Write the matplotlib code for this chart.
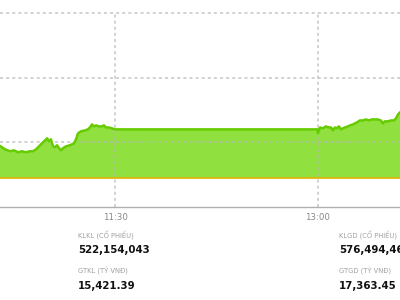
import matplotlib
matplotlib.use("Agg")
import matplotlib.pyplot as plt

# thời gian (phút kể từ 9:00) và giá trị chỉ số
morning_time = [99.0, 101.2, 103.4, 105.2, 107.0, 108.8, 110.5, 112.3, 113.6, 115.0,
                116.3, 117.6, 119.0, 119.9, 120.7, 121.6, 122.5, 123.4, 124.3, 125.2,
                126.1, 126.9, 128.3, 130.0, 131.8, 132.7, 133.6, 134.9, 136.7, 138.0,
                138.9, 139.8, 140.7, 141.6, 142.9, 144.2, 145.1, 146.0, 147.3, 148.7, 150.0]
morning_value = [1184.72, 1184.46, 1184.31, 1184.38, 1184.23, 1184.31, 1184.23, 1184.31, 1184.31, 1184.46,
                 1184.69, 1184.92, 1185.15, 1185.31, 1185.08, 1185.23, 1184.69, 1184.62, 1184.77, 1184.54,
                 1184.38, 1184.54, 1184.69, 1184.77, 1184.92, 1185.23, 1185.69, 1185.85, 1185.92, 1186.00,
                 1186.15, 1186.38, 1186.23, 1186.31, 1186.23, 1186.23, 1186.31, 1186.15, 1186.15, 1186.08, 1186.00]
afternoon_time = [239.8, 240.0, 240.9, 242.2, 243.5, 244.9, 245.8, 246.7, 247.5, 248.4, 249.3,
                  250.2, 251.1, 252.0, 253.3, 254.2, 255.5, 256.4, 257.3, 258.6, 260.0,
                  261.3, 262.6, 263.9, 265.3, 266.6, 267.9, 268.8, 269.7, 271.0, 272.4,
                  273.7, 274.6, 275.5, 276.4]
afternoon_value = [1186.00, 1185.69, 1186.15, 1186.08, 1186.23, 1186.15, 1186.15, 1185.92, 1186.15, 1186.08, 1186.23,
                   1186.00, 1186.08, 1186.15, 1186.23, 1186.31, 1186.38, 1186.46, 1186.54, 1186.69, 1186.69,
                   1186.77, 1186.69, 1186.77, 1186.77, 1186.77, 1186.69, 1186.46, 1186.62, 1186.62, 1186.69,
                   1186.69, 1186.85, 1187.15, 1187.31]
ref_value = 1182.23
grid_values = [1185, 1190, 1195]
tick_times = [150, 240]
tick_labels = ["11:30", "13:00"]

stat_labels = ["KLKL (CỔ PHIẾU)", "GTKL (TỶ VNĐ)", "KLGD (CỔ PHIẾU)", "GTGD (TỶ VNĐ)"]
stat_values = ["522,154,043", "15,421.39", "576,494,460", "17,363.45"]

times = morning_time + afternoon_time
values = morning_value + afternoon_value

fig = plt.figure(figsize=(4, 3), dpi=100)
ax = fig.add_axes([0, 0.31, 1, 0.69])
ax.set_xlim(99.0, 276.4)
ax.set_ylim(1180, 1196)

ax.fill_between(times, values, ref_value, color="#90e040", lw=0, zorder=1)
ax.axhline(ref_value, color="#e4b400", lw=1.2, zorder=2)

# lưới nét đứt
for v in grid_values:
    ax.axhline(v, color="#b8b8b8", lw=1.1, ls=(0, (2, 2)), alpha=0.8, zorder=3)
ax.vlines(tick_times, 1180, 1195, color="#b8b8b8", lw=1.1, ls=(0, (2, 2)), alpha=0.8, zorder=3)

ax.plot(times, values, color="#66cc00", lw=1.8, zorder=4)

for s in ["top", "left", "right"]:
    ax.spines[s].set_visible(False)
ax.spines["bottom"].set_color("#b0b0b0")
ax.spines["bottom"].set_linewidth(1)
ax.set_yticks([])
ax.set_xticks(tick_times)
ax.set_xticklabels(tick_labels, fontsize=6.2, color="#888888")
ax.tick_params(axis="x", length=0, pad=4)

# các thông số bên dưới
pos = [(78, 235), (78, 271), (339, 235), (339, 271)]
for (px, py), lab, val in zip(pos, stat_labels, stat_values):
    fig.text(px / 400, 1 - py / 300, lab, fontsize=4.9, color="#a0a0a0", va="center", ha="left")
    fig.text(px / 400, 1 - (py + 15) / 300, val, fontsize=7.4, fontweight="bold",
             color="#111111", va="center", ha="left")

fig.savefig("out.png", dpi=100)
